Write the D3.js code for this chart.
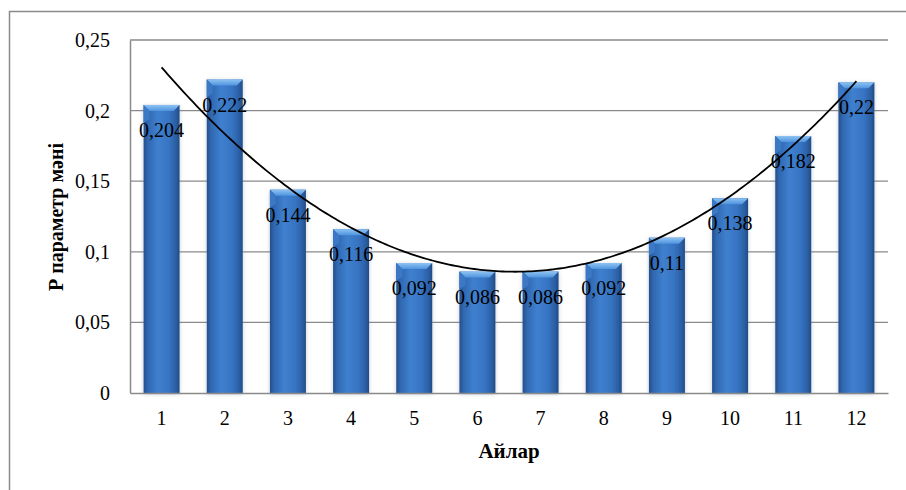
<!DOCTYPE html>
<html>
<head>
<meta charset="utf-8">
<script src="https://cdn.jsdelivr.net/npm/d3@7"></script>
<style>
  html, body { margin: 0; padding: 0; background: #fff; }
  svg { display: block; }
  text { font-family: "Liberation Serif", "Times New Roman", serif; fill: #000; }
</style>
</head>
<body>
<script>
// Monthly values of the P parameter
const months = ["1", "2", "3", "4", "5", "6", "7", "8", "9", "10", "11", "12"];
const pValues = [0.204, 0.222, 0.144, 0.116, 0.092, 0.086, 0.086, 0.092, 0.11, 0.138, 0.182, 0.22];
const valueLabels = ["0,204", "0,222", "0,144", "0,116", "0,092", "0,086", "0,086", "0,092", "0,11", "0,138", "0,182", "0,22"];
const yTicks = [0, 0.05, 0.1, 0.15, 0.2, 0.25];
const yTickLabels = ["0", "0,05", "0,1", "0,15", "0,2", "0,25"];

const W = 906, H = 490;
const plot = { left: 130, right: 888, top: 40, bottom: 393 };

const svg = d3.select("body").append("svg").attr("width", W).attr("height", H);
const defs = svg.append("defs");

// Cylinder-like horizontal shading for the bar bodies
const bodyGrad = defs.append("linearGradient").attr("id", "barBody")
  .attr("x1", "0%").attr("x2", "100%").attr("y1", "0%").attr("y2", "0%");
[[0, "#244f8b"], [0.12, "#3068b1"], [0.4, "#3f80cf"], [0.7, "#3774c2"], [0.9, "#2b5fa4"], [1, "#214b86"]]
  .forEach(([o, c]) => bodyGrad.append("stop").attr("offset", o).attr("stop-color", c));

const capGrad = defs.append("linearGradient").attr("id", "barCap")
  .attr("x1", "0%").attr("x2", "0%").attr("y1", "0%").attr("y2", "100%");
[[0, "#8ec3f2"], [1, "#4f93de"]]
  .forEach(([o, c]) => capGrad.append("stop").attr("offset", o).attr("stop-color", c));

const shadow = defs.append("filter").attr("id", "barShadow")
  .attr("x", "-30%").attr("y", "-10%").attr("width", "160%").attr("height", "120%");
shadow.append("feDropShadow").attr("dx", 0).attr("dy", 1).attr("stdDeviation", 2)
  .attr("flood-color", "#7a8fa8").attr("flood-opacity", 0.45);

// Outer chart frame
svg.append("rect").attr("x", 9.5).attr("y", 11.5).attr("width", 1000).attr("height", 1000)
  .attr("fill", "none").attr("stroke", "#8a8a8a").attr("stroke-width", 1.5);

const x = d3.scaleBand().domain(months).range([plot.left, plot.right])
  .paddingInner(0.43).paddingOuter(0.215);
const y = d3.scaleLinear().domain([0, 0.25]).range([plot.bottom, plot.top]);

// Horizontal gridlines
svg.append("g").selectAll("line").data(yTicks.slice(1)).join("line")
  .attr("x1", plot.left).attr("x2", plot.right)
  .attr("y1", d => y(d)).attr("y2", d => y(d))
  .attr("stroke", "#8a8a8a").attr("stroke-width", 1.3);

// Y axis
const yAxis = d3.axisLeft(y).tickValues(yTicks).tickFormat((d, i) => yTickLabels[i]).tickSize(0).tickPadding(20);
const gy = svg.append("g").attr("transform", `translate(${plot.left},0)`).call(yAxis);
gy.select(".domain").attr("stroke", "#8a8a8a").attr("stroke-width", 1.5);
gy.selectAll("text").attr("font-size", 20).attr("font-family", "Liberation Serif, serif");

// Bars
const bars = svg.append("g").selectAll("g").data(pValues).join("g")
  .attr("filter", "url(#barShadow)");
bars.append("rect")
  .attr("x", (d, i) => x(months[i])).attr("width", x.bandwidth())
  .attr("y", d => y(d)).attr("height", d => plot.bottom - y(d))
  .attr("fill", "url(#barBody)");
// bevelled top of each bar
bars.append("path")
  .attr("d", (d, i) => {
    const x0 = x(months[i]), x1 = x0 + x.bandwidth(), t = y(d), b = 6;
    return `M${x0},${t}L${x1},${t}L${x1 - b},${t + b}L${x0 + b},${t + b}Z`;
  })
  .attr("fill", "url(#barCap)");
bars.append("path")
  .attr("d", (d, i) => {
    const x0 = x(months[i]), t = y(d), b = 6;
    return `M${x0},${t}L${x0 + b},${t + b}L${x0 + b},${t + 14}L${x0},${t + 18}Z`;
  })
  .attr("fill", "#3a78c6");

// X axis
const xAxis = d3.axisBottom(x).tickSize(0).tickPadding(18);
const gx = svg.append("g").attr("transform", `translate(0,${plot.bottom})`).call(xAxis);
gx.select(".domain").attr("stroke", "#8a8a8a").attr("stroke-width", 1.5);
gx.selectAll("text").attr("font-size", 20).attr("font-family", "Liberation Serif, serif");

// Quadratic least-squares trendline over the monthly values
const n = pValues.length;
const xs = pValues.map((_, i) => i + 1);
function fitQuadratic(xv, yv) {
  const S = k => d3.sum(xv, v => Math.pow(v, k));
  const T = k => d3.sum(xv, (v, i) => Math.pow(v, k) * yv[i]);
  const A = [[S(0), S(1), S(2), T(0)], [S(1), S(2), S(3), T(1)], [S(2), S(3), S(4), T(2)]];
  for (let c = 0; c < 3; c++) {
    for (let r = c + 1; r < 3; r++) {
      const f = A[r][c] / A[c][c];
      for (let k = c; k < 4; k++) A[r][k] -= f * A[c][k];
    }
  }
  const coef = [0, 0, 0];
  for (let r = 2; r >= 0; r--) {
    let s = A[r][3];
    for (let k = r + 1; k < 3; k++) s -= A[r][k] * coef[k];
    coef[r] = s / A[r][r];
  }
  return coef;
}
const [c0, c1, c2] = fitQuadratic(xs, pValues);
const xLin = d3.scaleLinear().domain([1, n])
  .range([x(months[0]) + x.bandwidth() / 2, x(months[n - 1]) + x.bandwidth() / 2]);
const trend = d3.range(1, n + 0.001, 0.05).map(t => [t, c0 + c1 * t + c2 * t * t]);
svg.append("path").datum(trend)
  .attr("d", d3.line().x(d => xLin(d[0])).y(d => y(d[1])))
  .attr("fill", "none").attr("stroke", "#000").attr("stroke-width", 1.8);

// Value labels
svg.append("g").selectAll("text").data(pValues).join("text")
  .attr("x", (d, i) => x(months[i]) + x.bandwidth() / 2)
  .attr("y", d => y(d) + 32)
  .attr("text-anchor", "middle").attr("font-size", 20)
  .text((d, i) => valueLabels[i]);

// Axis titles
svg.append("text").attr("x", 509).attr("y", 458).attr("text-anchor", "middle")
  .attr("font-size", 21).attr("font-weight", "bold").text("Айлар");
svg.append("text").attr("transform", "translate(63,217) rotate(-90)")
  .attr("text-anchor", "middle").attr("font-size", 20).attr("font-weight", "bold")
  .text("Р параметр мәні");
</script>
</body>
</html>
